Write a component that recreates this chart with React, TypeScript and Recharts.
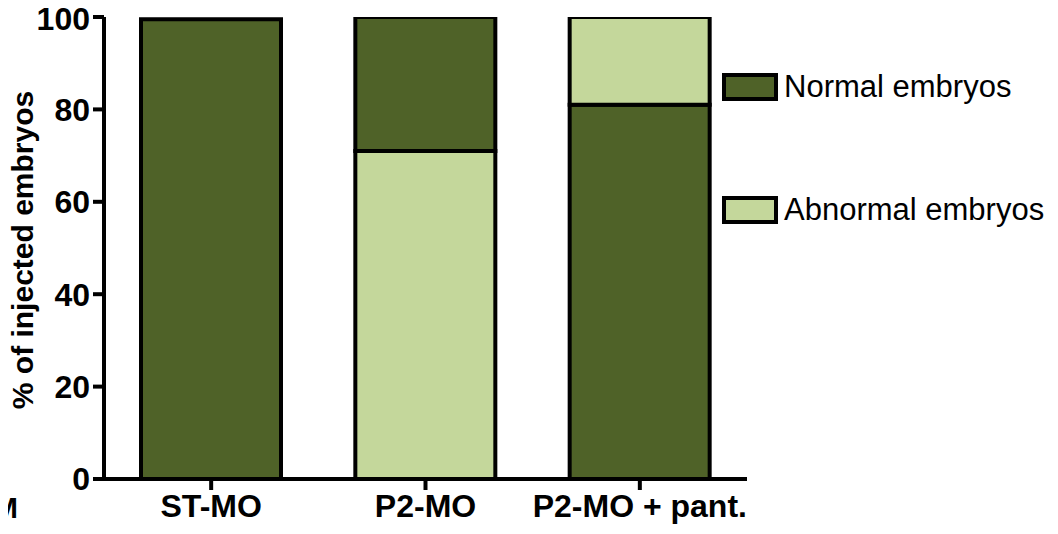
import React from 'react';
import { BarChart, Bar, XAxis, YAxis } from 'recharts';

// groups on the x axis
const categories = ['ST-MO', 'P2-MO', 'P2-MO + pant.'];
// stacked from the bottom up: abnormal (lower), normal, abnormal (upper)
const abnormalLower = [0, 71, 0];
const normal = [99.5, 29, 81];
const abnormalUpper = [0, 0, 19];
const yTicks = [0, 20, 40, 60, 80, 100];

const DARK = '#4F6228';
const LIGHT = '#C4D79B';
const FONT = 'Arial, "Liberation Sans", Helvetica, sans-serif';

const legendItems = [
  { label: 'Normal embryos', color: DARK },
  { label: 'Abnormal embryos', color: LIGHT },
];

const data = categories.map((name, i) => ({
  name,
  abnormalLower: abnormalLower[i],
  normal: normal[i],
  abnormalUpper: abnormalUpper[i],
}));

const LegendBox = () => (
  <div style={{ position: 'absolute', left: 722, top: 73, fontFamily: FONT }}>
    {legendItems.map((item, i) => (
      <div
        key={item.label}
        style={{ display: 'flex', alignItems: 'center', height: 28, marginBottom: i === 0 ? 95 : 0 }}
      >
        <div
          style={{
            width: 48,
            height: 20,
            background: item.color,
            border: '4px solid #000',
            marginRight: 6,
          }}
        />
        <span style={{ fontSize: 31, color: '#000', lineHeight: '28px', whiteSpace: 'nowrap' }}>{item.label}</span>
      </div>
    ))}
  </div>
);

const YLabel = () => (
  <text
    x={22}
    y={250}
    transform="rotate(-90, 22, 250)"
    textAnchor="middle"
    dominantBaseline="central"
    fontFamily={FONT}
    fontWeight="bold"
    fontSize={30}
    fill="#000"
  >
    % of injected embryos
  </text>
);

export default function App() {
  return (
    <div style={{ position: 'relative', width: 1058, height: 534, margin: -8, background: '#fff', overflow: 'hidden' }}>
      <BarChart
        width={1058}
        height={534}
        data={data}
        margin={{ top: 17, right: 311, bottom: 0, left: 0 }}
        barCategoryGap={37}
      >
        <XAxis
          dataKey="name"
          height={55}
          axisLine={{ stroke: '#000', strokeWidth: 4 }}
          tickLine={{ stroke: '#000', strokeWidth: 4 }}
          tickSize={11}
          tickMargin={4}
          tick={{ fill: '#000', fontSize: 32, fontWeight: 'bold', fontFamily: FONT }}
          interval={0}
        />
        <YAxis
          width={104}
          domain={[0, 100]}
          ticks={yTicks}
          allowDataOverflow
          axisLine={{ stroke: '#000', strokeWidth: 4 }}
          tickLine={{ stroke: '#000', strokeWidth: 4 }}
          tickSize={11}
          tickMargin={3}
          tick={{ fill: '#000', fontSize: 32, fontWeight: 'bold', fontFamily: FONT }}
          label={{ content: () => <YLabel /> }}
        />
        <Bar dataKey="abnormalLower" stackId="a" fill={LIGHT} stroke="#000" strokeWidth={4} barSize={140} isAnimationActive={false} />
        <Bar dataKey="normal" stackId="a" fill={DARK} stroke="#000" strokeWidth={4} barSize={140} isAnimationActive={false} />
        <Bar dataKey="abnormalUpper" stackId="a" fill={LIGHT} stroke="#000" strokeWidth={4} barSize={140} isAnimationActive={false} />
      </BarChart>
      <LegendBox />
      <div
        style={{
          position: 'absolute',
          left: -7,
          top: 493,
          fontFamily: FONT,
          fontWeight: 'bold',
          fontSize: 30,
          lineHeight: '30px',
          color: '#000',
        }}
      >
        M
      </div>
    </div>
  );
}
